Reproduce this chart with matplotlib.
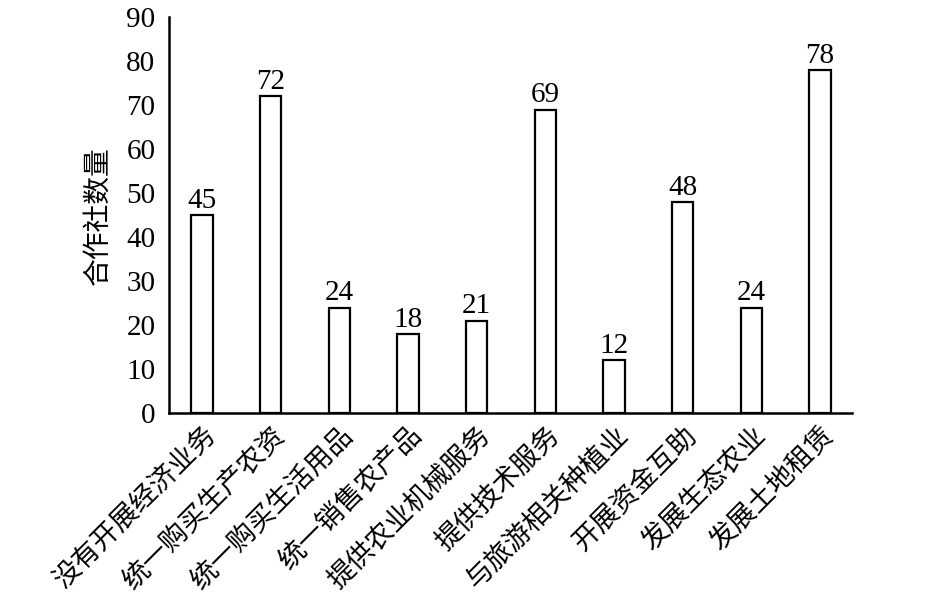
import matplotlib
matplotlib.use("Agg")
import matplotlib.pyplot as plt
import numpy as np

categories = ["没有开展经济业务", "统一购买生产农资", "统一购买生活用品", "统一销售农产品",
              "提供农业机械服务", "提供技术服务", "与旅游相关种植业", "开展资金互助",
              "发展生态农业", "发展土地租赁"]
counts = [45, 72, 24, 18, 21, 69, 12, 48, 24, 78]
yticks = [0, 10, 20, 30, 40, 50, 60, 70, 80, 90]

cjk = ["Noto Sans CJK SC", "DejaVu Sans"]
num_font = "Liberation Serif"

fig = plt.figure(figsize=(9.45, 6.14), dpi=100)
ax = fig.add_axes([0.179, 0.327, 0.723, 0.645])

x = np.arange(len(categories))
ax.bar(x, counts, width=0.31, color="white", edgecolor="black", linewidth=1.6)

for xi, v in zip(x, counts):
    ax.text(xi, v + 0.3, str(v), ha="center", va="bottom",
            fontsize=21, family=num_font)

ax.set_xlim(-0.48, 9.47)
ax.set_ylim(0, 90)
ax.set_yticks(yticks)
ax.set_yticklabels([str(t) for t in yticks], fontsize=21, family=num_font)
ax.set_xticks(x)
ax.set_xticklabels(categories, rotation=45, ha="right", rotation_mode="anchor",
                   fontsize=19.5, family=cjk)
ax.tick_params(axis="y", length=0, pad=10)
ax.tick_params(axis="x", length=0, pad=6)
ax.set_ylabel("合作社数量", fontsize=20, family=cjk, labelpad=10)

for s in ["top", "right"]:
    ax.spines[s].set_visible(False)
for s in ["left", "bottom"]:
    ax.spines[s].set_linewidth(1.8)

fig.savefig("out.png", dpi=100)
